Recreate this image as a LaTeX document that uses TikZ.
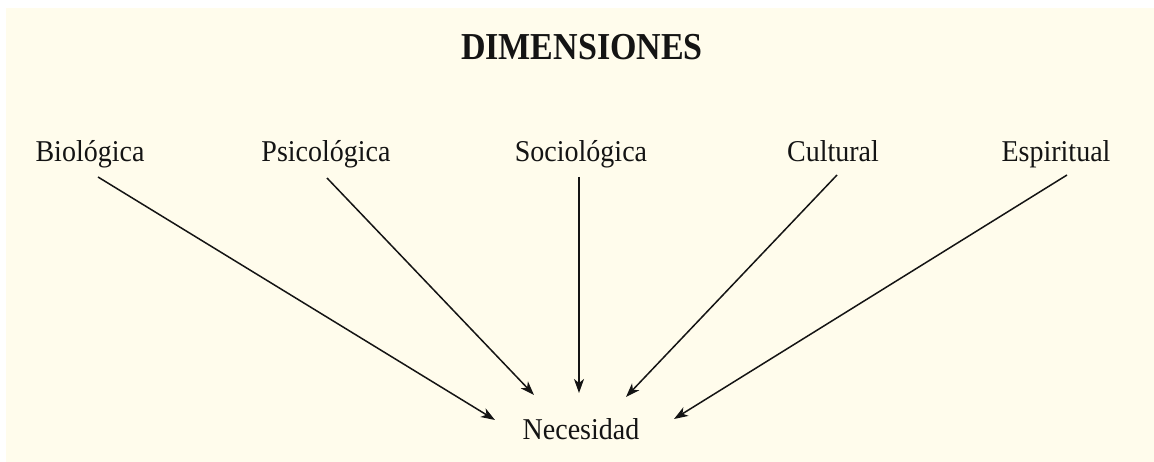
\documentclass[tikz,border=0pt]{standalone}
\usepackage{fontspec}
\setmainfont{Liberation Serif}
\usetikzlibrary{arrows.meta}
\definecolor{cream}{RGB}{255,252,236}
\definecolor{ink}{RGB}{20,20,20}
\tikzset{
  lbl/.style={anchor=base, inner sep=0pt, text=ink, font=\fontsize{28}{32}\selectfont},
  ttl/.style={anchor=base, inner sep=0pt, text=ink, font=\fontsize{34}{40}\selectfont\bfseries},
  conn/.style={draw=ink, line width=1.5pt, -{Stealth[length=14pt,width=10pt,inset=4pt]}}
}
\newcommand{\tallA}[1]{\scalebox{1}[1.08]{#1}}
\newcommand{\tallB}[1]{\scalebox{1}[1.12]{#1}}
\begin{document}
\begin{tikzpicture}[x=1pt,y=-1pt]
\useasboundingbox (0,0) rectangle (1154,462);
\fill[white] (0,0) rectangle (1154,462);
\fill[cream] (6,8) rectangle (1154,462);
\node[ttl] (title) at (582,60) {\tallB{DIMENSIONES}};
\node[lbl] (bio) at (90,162) {\tallA{Biológica}};
\node[lbl] (psi) at (326,162) {\tallA{Psicológica}};
\node[lbl] (soc) at (581,162) {\tallA{Sociológica}};
\node[lbl] (cul) at (833,162) {\tallA{Cultural}};
\node[lbl] (esp) at (1056,162) {\tallA{Espiritual}};
\node[lbl] (nec) at (581,439) {\tallA{Necesidad}};
\coordinate (bioS) at (98,177);
\coordinate (psiS) at (327,178);
\coordinate (socS) at (579,177);
\coordinate (culS) at (837,175);
\coordinate (espS) at (1067,175);
\coordinate (bioE) at (495,420);
\coordinate (psiE) at (534,395);
\coordinate (socE) at (579,393);
\coordinate (culE) at (626,397);
\coordinate (espE) at (674,419);
\draw[conn] (bioS) -- (bioE);
\draw[conn] (psiS) -- (psiE);
\draw[conn] (socS) -- (socE);
\draw[conn] (culS) -- (culE);
\draw[conn] (espS) -- (espE);
\end{tikzpicture}
\end{document}
